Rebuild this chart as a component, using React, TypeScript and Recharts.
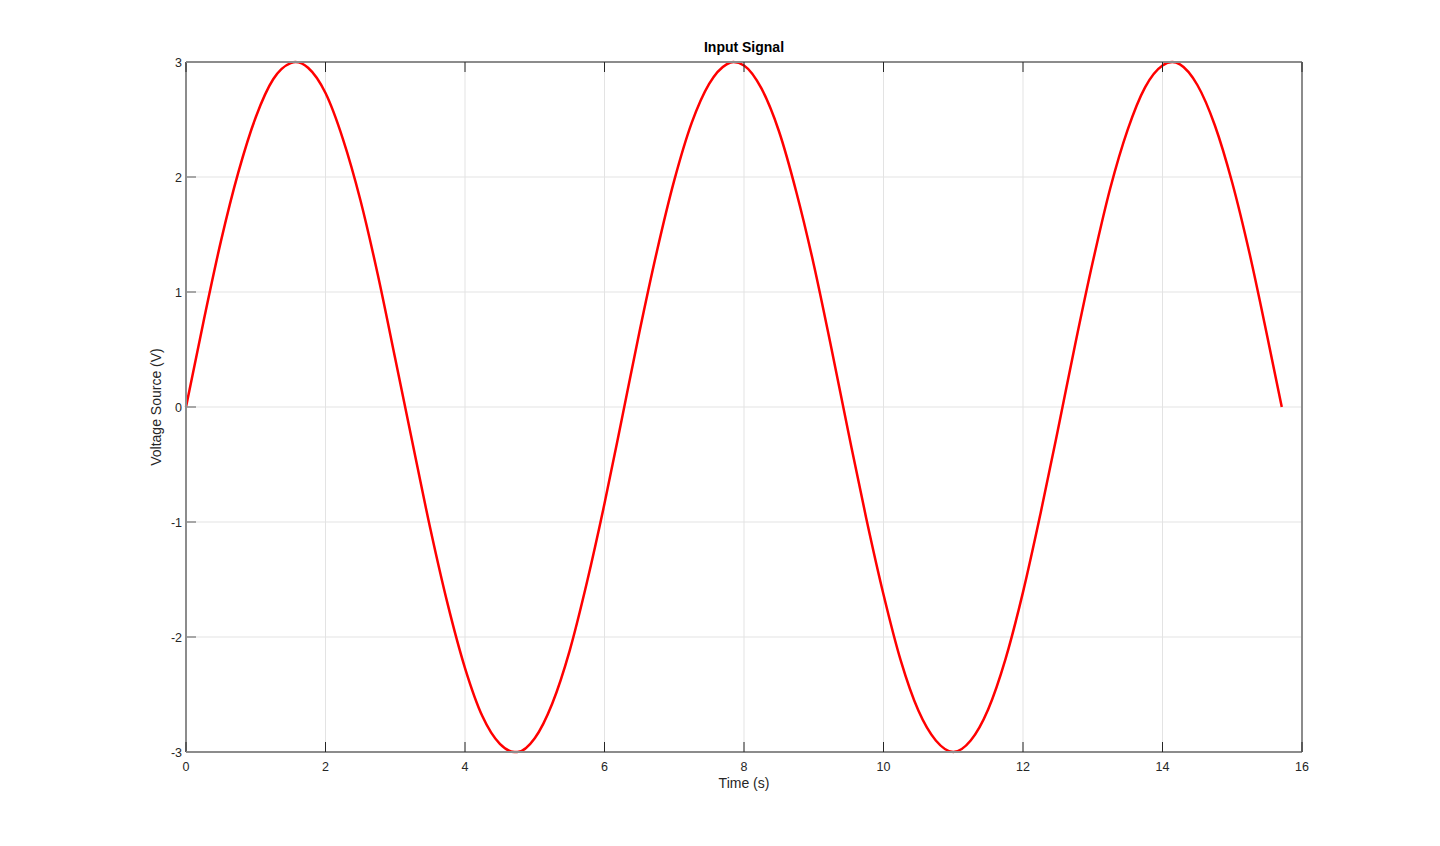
import React from "react";
import { LineChart, Line, XAxis, YAxis, CartesianGrid, Label } from "recharts";

const timeValues = [
  0, 0.25, 0.5, 0.75, 1.0, 1.25, 1.5, 1.57, 1.75, 2.0, 2.25, 2.5, 2.75, 3.0, 3.25, 3.5, 3.75, 4.0,
  4.25, 4.5, 4.71, 4.75, 5.0, 5.25, 5.5, 5.75, 6.0, 6.25, 6.5, 6.75, 7.0, 7.25, 7.5, 7.75, 7.85,
  8.0, 8.25, 8.5, 8.75, 9.0, 9.25, 9.5, 9.75, 10.0, 10.25, 10.5, 10.75, 11.0, 11.25, 11.5, 11.75,
  12.0, 12.25, 12.5, 12.75, 13.0, 13.25, 13.5, 13.75, 14.0, 14.14, 14.25, 14.5, 14.75, 15.0, 15.25,
  15.5, 15.71,
];

const voltageValues = [
  0, 0.74, 1.44, 2.04, 2.52, 2.85, 2.99, 3.0, 2.95, 2.73, 2.33, 1.8, 1.15, 0.42, -0.32, -1.05, -1.71,
  -2.27, -2.69, -2.93, -3.0, -3.0, -2.88, -2.58, -2.12, -1.52, -0.84, -0.1, 0.65, 1.35, 1.97, 2.47,
  2.81, 2.98, 3.0, 2.97, 2.77, 2.4, 1.87, 1.24, 0.52, -0.23, -0.96, -1.63, -2.21, -2.64, -2.9, -3.0,
  -2.9, -2.63, -2.19, -1.61, -0.93, -0.2, 0.55, 1.26, 1.9, 2.41, 2.78, 2.97, 3.0, 2.98, 2.8, 2.45,
  1.95, 1.33, 0.62, 0,
];

const xTicks = [0, 2, 4, 6, 8, 10, 12, 14, 16];
const yTicks = [-3, -2, -1, 0, 1, 2, 3];

const titleText = "Input Signal";
const xLabelText = "Time (s)";
const yLabelText = "Voltage Source (V)";

const data = timeValues.map((t, i) => ({ t, v: voltageValues[i] }));

const FONT = "'Liberation Sans', Arial, Helvetica, sans-serif";
const TEXT_COLOR = "#262626";
const FRAME = "#8c8c8c";
const TICK_LEN = 10;

const BottomTick = (props: any) => {
  const { x, y, payload } = props;
  return (
    <g>
      <line x1={x} x2={x} y1={y} y2={y - TICK_LEN} stroke={TEXT_COLOR} strokeWidth={1} />
      <text x={x} y={y + 19} textAnchor="middle" fontSize={12.5} fontFamily={FONT} fill={TEXT_COLOR} stroke="none">
        {payload.value}
      </text>
    </g>
  );
};

const TopTick = (props: any) => {
  const { x, y } = props;
  return <line x1={x} x2={x} y1={y} y2={y + TICK_LEN} stroke={TEXT_COLOR} strokeWidth={1} />;
};

const LeftTick = (props: any) => {
  const { x, y, payload } = props;
  return (
    <g>
      <line x1={x} x2={x + TICK_LEN} y1={y} y2={y} stroke={FRAME} strokeWidth={1.5} />
      <text x={x - 4} y={y + 4.5} textAnchor="end" fontSize={12.5} fontFamily={FONT} fill={TEXT_COLOR} stroke="none">
        {payload.value}
      </text>
    </g>
  );
};

const RightTick = (props: any) => {
  const { x, y } = props;
  return <line x1={x} x2={x - TICK_LEN} y1={y} y2={y} stroke={FRAME} strokeWidth={1.5} />;
};

const YLabel = (props: any) => {
  const vb = props.viewBox || {};
  const cx = 161;
  const cy = vb.y + vb.height / 2;
  return (
    <text
      x={cx}
      y={cy}
      textAnchor="middle"
      transform={`rotate(-90, ${cx}, ${cy})`}
      fontSize={14}
      fontFamily={FONT}
      fill={TEXT_COLOR}
    >
      {yLabelText}
    </text>
  );
};

export default function App() {
  return (
    <div style={{ position: "absolute", left: 0, top: 0, width: 1440, height: 846, background: "#fff" }}>
      <LineChart
        width={1440}
        height={846}
        data={data}
        margin={{ top: 32, left: 146, right: 98, bottom: 64 }}
      >
        <CartesianGrid xAxisId="bottom" yAxisId="left" stroke="#e3e3e3" strokeWidth={1} />
        <XAxis
          xAxisId="bottom"
          dataKey="t"
          type="number"
          domain={[0, 16]}
          ticks={xTicks}
          height={30}
          tickSize={0}
          tickMargin={0}
          tickLine={false}
          stroke={FRAME}
          axisLine={{ stroke: FRAME, strokeWidth: 2 }}
          tick={BottomTick}
          interval={0}
        >
          <Label
            value={xLabelText}
            position="bottom"
            offset={-4}
            style={{ fontSize: 14, fontFamily: FONT, fill: TEXT_COLOR, stroke: "none" }}
          />
        </XAxis>
        <XAxis
          xAxisId="top"
          orientation="top"
          dataKey="t"
          type="number"
          domain={[0, 16]}
          ticks={xTicks}
          height={30}
          tickSize={0}
          tickMargin={0}
          tickLine={false}
          stroke={FRAME}
          axisLine={{ stroke: FRAME, strokeWidth: 2 }}
          tick={TopTick}
          interval={0}
        >
          <Label
            value={titleText}
            position="top"
            offset={-20}
            style={{ fontSize: 14, fontWeight: "bold", fontFamily: FONT, fill: "#000", stroke: "none" }}
          />
        </XAxis>
        <YAxis
          yAxisId="left"
          type="number"
          domain={[-3, 3]}
          ticks={yTicks}
          width={40}
          tickSize={0}
          tickMargin={0}
          tickLine={false}
          stroke={FRAME}
          axisLine={{ stroke: FRAME, strokeWidth: 2 }}
          tick={LeftTick}
          interval={0}
        >
          <Label content={YLabel} />
        </YAxis>
        <YAxis
          yAxisId="right"
          orientation="right"
          type="number"
          domain={[-3, 3]}
          ticks={yTicks}
          width={40}
          tickSize={0}
          tickMargin={0}
          tickLine={false}
          stroke={FRAME}
          axisLine={{ stroke: FRAME, strokeWidth: 2 }}
          tick={RightTick}
          interval={0}
        />
        <Line
          xAxisId="bottom"
          yAxisId="left"
          dataKey="v"
          type="monotone"
          stroke="#ff0000"
          strokeWidth={2.5}
          dot={false}
          isAnimationActive={false}
        />
      </LineChart>
    </div>
  );
}
